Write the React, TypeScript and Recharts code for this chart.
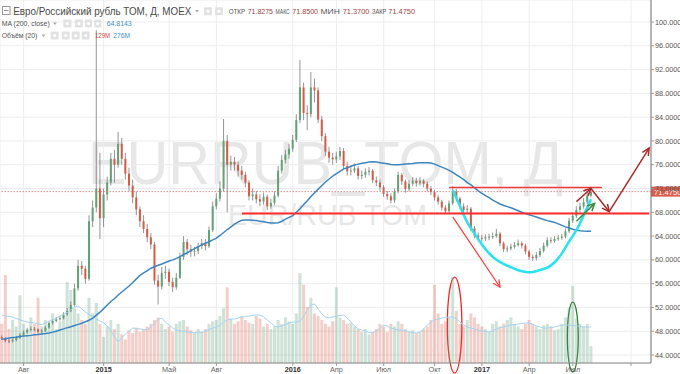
import React from 'react';
import { ComposedChart, Bar, Line, XAxis, YAxis, CartesianGrid, ReferenceLine, ReferenceArea } from 'recharts';

const FONT = "Arial, 'Liberation Sans', sans-serif";

// Weekly candles (EUR/RUB TOM), Jun 2014 .. Jul 2017
const opens = [
  47.0, 46.8, 46.4, 46.3, 46.5, 46.9, 47.4, 47.8, 48.2, 48.4,
  48.3, 47.9, 48.1, 48.6, 49.4, 49.7, 50.0, 50.2, 50.8, 51.4,
  52.4, 55.2, 59.0, 58.5, 56.8, 66.5, 68.8, 72.0, 67.0, 71.0,
  73.0, 77.0, 76.0, 79.5, 77.0, 74.5, 72.5, 70.5, 68.5, 66.5,
  65.2, 63.8, 62.6, 56.5, 55.5, 57.8, 58.0, 56.3, 55.4, 57.0,
  60.5, 63.0, 61.8, 61.4, 61.5, 62.3, 62.8, 62.3, 65.0, 69.0,
  70.3, 72.0, 80.0, 76.0, 76.5, 76.0, 75.0, 74.3, 73.0, 70.7,
  71.0, 70.2, 69.8, 70.6, 69.0, 69.6, 70.8, 75.0, 76.8, 77.7,
  78.7, 80.2, 83.5, 89.0, 84.7, 84.5, 89.0, 88.5, 83.6, 80.8,
  78.2, 77.2, 76.9, 77.4, 78.3, 75.8, 74.9, 75.0, 75.4, 74.1,
  74.3, 74.8, 75.0, 73.4, 73.0, 72.2, 71.1, 70.7, 70.0, 71.5,
  74.3, 73.2, 71.9, 72.8, 73.3, 72.9, 73.3, 72.8, 72.0, 71.4,
  70.5, 69.8, 68.8, 68.2, 69.5, 71.5, 70.3, 69.0, 68.4, 68.6,
  65.3, 64.1, 63.7, 63.6, 63.8, 63.9, 64.0, 64.4, 62.8, 61.8,
  61.9, 62.2, 62.5, 62.8, 62.4, 61.4, 60.5, 60.3, 60.8, 61.5,
  62.4, 63.3, 63.2, 63.5, 63.7, 63.9, 64.8, 66.6, 67.4, 68.4,
  69.0, 69.7, 70.8,
];
const highs = [
  47.3, 47.0, 46.7, 46.8, 47.2, 47.7, 48.1, 48.6, 48.8, 48.7,
  48.5, 48.4, 48.9, 49.7, 50.0, 50.4, 50.6, 51.2, 51.9, 53.0,
  56.0, 60.0, 59.8, 59.0, 67.5, 70.0, 98.6, 78.0, 72.0, 74.0,
  78.0, 78.5, 81.5, 80.5, 78.0, 75.5, 73.5, 71.5, 69.0, 67.5,
  66.0, 64.5, 63.0, 57.5, 58.8, 59.0, 58.5, 57.0, 57.8, 61.2,
  64.0, 63.5, 62.5, 62.2, 62.9, 63.5, 63.5, 65.6, 69.8, 71.2,
  73.2, 83.7, 81.0, 77.5, 77.3, 76.5, 75.8, 74.8, 73.4, 72.0,
  71.6, 71.0, 71.3, 71.0, 70.3, 71.5, 75.8, 77.6, 78.5, 79.5,
  81.0, 84.5, 93.6, 89.8, 86.0, 91.6, 90.5, 89.0, 84.2, 81.3,
  79.0, 78.0, 78.2, 79.0, 78.8, 76.5, 75.9, 76.2, 75.8, 75.0,
  75.4, 75.6, 75.3, 74.0, 73.5, 72.6, 71.6, 71.2, 72.0, 74.8,
  74.6, 73.5, 73.4, 73.9, 73.8, 73.9, 73.6, 73.2, 72.4, 71.8,
  70.9, 70.1, 69.2, 70.0, 72.4, 71.9, 70.6, 69.5, 69.2, 68.9,
  65.7, 64.6, 64.2, 64.3, 64.4, 64.6, 65.2, 64.7, 63.1, 62.4,
  62.7, 63.0, 63.4, 63.1, 62.7, 61.7, 60.9, 61.3, 62.0, 62.9,
  63.8, 63.8, 64.0, 64.2, 64.4, 65.3, 67.1, 68.0, 69.0, 69.6,
  70.4, 71.5, 72.3,
];
const lows = [
  46.5, 46.1, 46.0, 46.1, 46.3, 46.7, 47.2, 47.6, 48.0, 48.0,
  47.6, 47.7, 47.9, 48.4, 49.1, 49.5, 49.8, 50.0, 50.6, 51.2,
  52.1, 54.8, 57.5, 56.0, 56.5, 65.5, 68.0, 63.5, 65.5, 70.0,
  72.5, 73.0, 75.5, 76.0, 73.5, 71.5, 69.5, 67.5, 65.5, 64.5,
  63.0, 61.8, 55.8, 52.5, 55.0, 56.8, 55.6, 54.6, 55.0, 56.8,
  60.0, 60.8, 60.5, 60.6, 61.0, 61.8, 61.6, 62.0, 64.7, 68.5,
  69.8, 71.5, 68.0, 75.0, 75.0, 74.0, 73.5, 72.2, 70.0, 70.0,
  69.5, 69.0, 69.3, 68.4, 68.6, 69.2, 70.5, 74.5, 76.2, 77.0,
  78.2, 79.8, 83.0, 83.5, 81.8, 84.0, 86.5, 83.0, 80.0, 77.5,
  76.3, 76.0, 76.3, 76.8, 75.2, 74.2, 74.2, 74.6, 73.5, 73.6,
  73.8, 74.2, 72.9, 72.4, 71.6, 70.6, 70.1, 69.5, 69.6, 71.2,
  72.6, 71.3, 71.5, 72.4, 72.3, 72.5, 72.2, 71.5, 70.9, 70.0,
  69.3, 68.3, 67.8, 67.9, 69.2, 69.8, 68.5, 67.9, 67.9, 64.8,
  63.6, 63.2, 63.1, 63.2, 63.3, 63.5, 63.7, 62.3, 61.3, 61.3,
  61.6, 61.9, 62.2, 61.9, 60.9, 60.0, 59.8, 59.9, 60.5, 61.2,
  62.1, 62.8, 62.9, 63.2, 63.4, 63.6, 64.5, 66.2, 67.0, 68.0,
  68.6, 69.4, 70.5,
];
const closes = [
  46.8, 46.4, 46.3, 46.5, 46.9, 47.4, 47.8, 48.2, 48.4, 48.3,
  47.9, 48.1, 48.6, 49.4, 49.7, 50.0, 50.2, 50.8, 51.4, 52.4,
  55.2, 59.0, 58.5, 56.8, 66.5, 68.8, 72.0, 67.0, 71.0, 73.0,
  77.0, 76.0, 79.5, 77.0, 74.5, 72.5, 70.5, 68.5, 66.5, 65.2,
  63.8, 62.6, 56.5, 55.5, 57.8, 58.0, 56.3, 55.4, 57.0, 60.5,
  63.0, 61.8, 61.4, 61.5, 62.3, 62.8, 62.3, 65.0, 69.0, 70.3,
  72.0, 80.0, 76.0, 76.5, 76.0, 75.0, 74.3, 73.0, 70.7, 71.0,
  70.2, 69.8, 70.6, 69.0, 69.6, 70.8, 75.0, 76.8, 77.7, 78.7,
  80.2, 83.5, 89.0, 84.7, 84.5, 89.0, 88.5, 83.6, 80.8, 78.2,
  77.2, 76.9, 77.4, 78.3, 75.8, 74.9, 75.0, 75.4, 74.1, 74.3,
  74.8, 75.0, 73.4, 73.0, 72.2, 71.1, 70.7, 70.0, 71.5, 74.3,
  73.2, 71.9, 72.8, 73.3, 72.9, 73.3, 72.8, 72.0, 71.4, 70.5,
  69.8, 68.8, 68.2, 69.5, 71.5, 70.3, 69.0, 68.4, 68.6, 65.3,
  64.1, 63.7, 63.6, 63.8, 63.9, 64.0, 64.4, 62.8, 61.8, 61.9,
  62.2, 62.5, 62.8, 62.4, 61.4, 60.5, 60.3, 60.8, 61.5, 62.4,
  63.3, 63.2, 63.5, 63.7, 63.9, 64.8, 66.6, 67.4, 68.4, 69.0,
  69.7, 70.8, 71.475,
];
// Volume, millions
const volumes = [
  300, 675, 260, 330, 280, 520, 300, 260, 350, 300,
  500, 280, 330, 300, 380, 260, 320, 360, 620, 560,
  420, 380, 330, 300, 500, 380, 460, 300, 200, 280,
  330, 260, 300, 220, 180, 250, 230, 270, 240, 260,
  280, 300, 330, 350, 300, 260, 280, 240, 300, 320,
  330, 280, 250, 230, 260, 240, 260, 300, 320, 330,
  360, 420, 580, 340, 300, 320, 360, 330, 310, 300,
  360, 340, 280, 300, 260, 280, 330, 300, 350, 320,
  300, 380, 690, 600, 430, 500, 380, 360, 330, 300,
  280, 320, 580, 350, 330, 300, 310, 280, 260, 240,
  260, 220, 240, 260, 300, 280, 240, 300, 280, 320,
  300, 260, 240, 250, 230, 240, 260, 280, 330, 600,
  380, 300, 320, 350, 660, 400, 300, 280, 330, 380,
  350, 300, 280, 260, 240, 300, 320, 280, 300, 330,
  350, 300, 280, 260, 300, 330, 300, 280, 260, 290,
  300, 280, 250, 260, 300, 350, 420, 590, 340, 300,
  280, 300, 129,
];
const volumeMA = [
  368, 360, 357, 353, 341, 330, 322, 314, 311, 307,
  299, 295, 307, 322, 330, 345, 360, 376, 387, 407,
  430, 437, 414, 391, 372, 357, 337, 322, 307, 284,
  245, 199, 161, 192, 222, 245, 268, 265, 261, 257,
  253, 276, 307, 334, 345, 314, 291, 268, 253, 245,
  242, 238, 234, 234, 230, 234, 245, 257, 268, 276,
  291, 314, 330, 337, 337, 345, 353, 357, 360, 364,
  368, 368, 353, 330, 307, 284, 276, 284, 295, 307,
  314, 314, 322, 360, 407, 445, 453, 414, 376, 353,
  345, 353, 360, 364, 368, 345, 314, 284, 261, 253,
  245, 234, 230, 245, 268, 291, 284, 268, 261, 253,
  253, 245, 238, 234, 230, 238, 261, 291, 314, 330,
  337, 345, 349, 353, 353, 337, 314, 291, 276, 268,
  261, 253, 245, 242, 238, 245, 261, 272, 276, 284,
  291, 295, 299, 303, 307, 307, 299, 284, 276, 268,
  268, 272, 276, 284, 291, 291, 291, 288, 284, 280,
  276, 276, 276,
];
const ma200 = [
  46.65, 46.75, 46.85, 46.95, 47.0, 47.1, 47.2, 47.25, 47.3, 47.4,
  47.45, 47.55, 47.6, 47.7, 47.85, 48.0, 48.2, 48.4, 48.6, 48.75,
  48.95, 49.15, 49.35, 49.6, 49.85, 50.2, 50.7, 51.2, 51.8, 52.4,
  53.0, 53.5, 54.1, 54.6, 55.1, 55.6, 56.2, 56.8, 57.4, 57.8,
  58.2, 58.6, 58.85, 59.1, 59.3, 59.55, 59.8, 60.0, 60.25, 60.55,
  60.9, 61.2, 61.55, 61.9, 62.2, 62.55, 62.8, 63.05, 63.35, 63.65,
  64.1, 64.6, 65.1, 65.55, 66.0, 66.4, 66.65, 66.7, 66.7, 66.65,
  66.6, 66.5, 66.4, 66.3, 66.2, 66.2, 66.25, 66.5, 66.85, 67.15,
  67.45, 68.0, 68.6, 69.3, 69.95, 70.65, 71.3, 71.9, 72.5, 73.1,
  73.6, 74.1, 74.5, 74.9, 75.3, 75.5, 75.75, 75.95, 76.1, 76.25,
  76.35, 76.45, 76.5, 76.45, 76.35, 76.25, 76.15, 76.05, 76.0, 76.0,
  76.05, 76.1, 76.15, 76.2, 76.3, 76.35, 76.35, 76.35, 76.3, 76.1,
  75.85, 75.6, 75.35, 75.05, 74.7, 74.3, 73.9, 73.5, 73.0, 72.6,
  72.1, 71.6, 71.2, 70.8, 70.45, 70.05, 69.7, 69.4, 69.15, 68.95,
  68.75, 68.5, 68.25, 68.0, 67.8, 67.6, 67.4, 67.2, 67.0, 66.8,
  66.6, 66.45, 66.3, 66.05, 65.8, 65.55, 65.35, 65.15, 65.0, 64.9,
  64.85, 64.82, 64.81,
];

const TOTAL_SLOTS = 179; // weekly slots incl. empty space on the right
const priceTicks = [44, 48, 52, 56, 60, 64, 68, 72, 76, 80, 84, 88, 92, 96, 100];
const monthTickSlots = [6, 28, 46, 59, 80, 92, 105, 119, 132, 145, 157, 173];
const monthTickLabels = ['Авг', '2015', 'Май', 'Авг', '2016', 'Апр', 'Июл', 'Окт', '2017', 'Апр', 'Июл', ''];

// Drawn annotations (slot, price)
const cupSlots = [124, 126, 128, 130, 132, 134, 136, 138, 140, 142, 144, 146, 148, 150, 152, 154, 156, 158, 160, 162];
const cupValues = [71.7, 69.0, 66.3, 64.4, 62.6, 61.1, 60.0, 59.3, 58.75, 58.25, 57.95, 57.95, 58.3, 58.7, 59.6, 61.1, 63.1, 65.0, 67.5, 70.2];
const levelLines = [
  { from: 66, to: 178, price: 67.8, color: '#ff2a2a', w: 2.2 },
  { from: 123, to: 165, price: 72.15, color: '#f03a3a', w: 1.5 },
];
const arrows = [
  { x1: 124, y1: 67.2, x2: 137, y2: 55.4, color: '#ff3b3b', w: 1.2 },
  { x1: 158, y1: 66.5, x2: 163, y2: 69.5, color: '#3d8a3d', w: 1.5 },
  { x1: 158, y1: 69.8, x2: 162, y2: 72.0, color: '#a82c2c', w: 1.5 },
  { x1: 162, y1: 72.0, x2: 167, y2: 68.1, color: '#a82c2c', w: 1.5 },
  { x1: 167, y1: 68.1, x2: 178, y2: 78.8, color: '#a82c2c', w: 1.5 },
];
const volumeCircles = [
  { x1: 123, x2: 126, y1: 40.97, y2: 57.1, color: '#ff2020' },
  { x1: 156, x2: 158, y1: 41.14, y2: 52.9, color: '#2e7d32' },
];
const lastPrice = 71.475;

const rows = Array.from({ length: TOTAL_SLOTS }, (_, i) => {
  const has = i < closes.length;
  const ci = cupSlots.indexOf(i);
  return {
    i,
    o: has ? opens[i] : null,
    h: has ? highs[i] : null,
    l: has ? lows[i] : null,
    c: has ? closes[i] : null,
    range: has ? [lows[i], highs[i]] : null,
    vol: has ? volumes[i] : null,
    vma: has ? volumeMA[i] : null,
    ma: has ? ma200[i] : null,
    cup: ci >= 0 ? cupValues[ci] : null,
  };
});

const Candle = (props: any) => {
  const { x, y, width, height, payload } = props;
  if (!payload || payload.o == null) return null;
  const { o, h, l, c } = payload;
  const top = Math.min(y, y + height);
  const hh = Math.abs(height);
  const ppu = hh / (h - l || 1);
  const yOf = (v: number) => top + (h - v) * ppu;
  const cx = x + width / 2;
  const up = c >= o;
  const bt = yOf(Math.max(o, c));
  const bb = yOf(Math.min(o, c));
  const bw = 2.0;
  return (
    <g>
      <line x1={cx} x2={cx} y1={top} y2={top + hh} stroke="#7a7a7a" strokeWidth={0.8} />
      <rect x={cx - bw / 2} y={bt} width={bw} height={Math.max(0.9, bb - bt)} fill={up ? '#62a277' : '#d65a45'} />
    </g>
  );
};

const VolBar = (props: any) => {
  const { x, y, width, height, payload } = props;
  if (!payload || payload.vol == null) return null;
  const up = payload.c >= payload.o;
  return <rect x={x} y={y} width={width} height={height} fill={up ? 'rgba(107,165,131,0.32)' : 'rgba(215,84,66,0.28)'} />;
};

const XTick = (p: any) => {
  const k = monthTickSlots.indexOf(p.payload.value);
  const label = k >= 0 ? monthTickLabels[k] : '';
  const year = /^\d{4}$/.test(label);
  return (
    <text x={p.x} y={p.y + 6} textAnchor="middle" fontFamily={FONT} fontSize={7.3} fontWeight={year ? 700 : 400} fill={year ? '#333' : '#666'}>
      {label}
    </text>
  );
};

const makeArrow = (color: string, w: number) => (p: any) => {
  const { x1, y1, x2, y2 } = p;
  const ang = Math.atan2(y2 - y1, x2 - x1);
  const L = 8;
  const a = 0.45;
  const hx1 = x2 - L * Math.cos(ang - a);
  const hy1 = y2 - L * Math.sin(ang - a);
  const hx2 = x2 - L * Math.cos(ang + a);
  const hy2 = y2 - L * Math.sin(ang + a);
  return (
    <g>
      <line x1={x1} y1={y1} x2={x2} y2={y2} stroke={color} strokeWidth={w} />
      <polyline points={`${hx1},${hy1} ${x2},${y2} ${hx2},${hy2}`} fill="none" stroke={color} strokeWidth={w} />
    </g>
  );
};

const makeEllipse = (color: string) => (p: any) => (
  <ellipse cx={p.x + p.width / 2} cy={p.y + p.height / 2} rx={Math.abs(p.width) / 2} ry={Math.abs(p.height) / 2} fill="none" stroke={color} strokeWidth={1.3} />
);

const PriceTag = (p: any) => {
  const vb = p.viewBox || {};
  const x = (vb.x || 0) + (vb.width || 0);
  const y = vb.y || 0;
  return (
    <g>
      <rect x={x} y={y - 5} width={29} height={10} fill="#dc5a4a" />
      <text x={x + 3} y={y + 3} fill="#fff" fontSize={7.6} fontFamily={FONT}>{lastPrice.toFixed(4)}</text>
    </g>
  );
};

const Icon = ({ x, y, w = 8, h = 8 }: any) => (
  <g>
    <rect x={x} y={y} width={w} height={h} rx={1} fill="#e2e2e2" />
    <circle cx={x + w / 2} cy={y + h / 2} r={1.6} fill="#fff" />
  </g>
);

const Header = () => (
  <svg width={680} height={45} style={{ position: 'absolute', left: 0, top: 0 }} fontFamily={FONT}>
    <rect x={2.5} y={6.5} width={7.5} height={8} fill="none" stroke="#999" />
    <line x1={4} x2={8.5} y1={10.5} y2={10.5} stroke="#999" />
    <text x={13.3} y={15} fontSize={10.6} fill="#4a4a4a" textLength={178} lengthAdjust="spacingAndGlyphs">Евро/Российский рубль ТОМ, Д, MOEX</text>
    <polygon points="195,10 199,10 197,12.5" fill="#aaa" />
    <Icon x={204} y={7.3} />
    <Icon x={215} y={7.3} />
    <text x={228.7} y={13.5} fontSize={7.2} fill="#555" textLength={16.5} lengthAdjust="spacingAndGlyphs">ОТКР</text>
    <text x={247.7} y={13.5} fontSize={7.2} fill="#a0413d" textLength={25.3} lengthAdjust="spacingAndGlyphs">71.8275</text>
    <text x={275.5} y={13.5} fontSize={7.2} fill="#555" textLength={14.3} lengthAdjust="spacingAndGlyphs">МАКС</text>
    <text x={292.3} y={13.5} fontSize={7.2} fill="#a0413d" textLength={25.8} lengthAdjust="spacingAndGlyphs">71.8500</text>
    <text x={320.5} y={13.5} fontSize={7.2} fill="#555" textLength={19.3} lengthAdjust="spacingAndGlyphs">МИН</text>
    <text x={342.7} y={13.5} fontSize={7.2} fill="#a0413d" textLength={26.8} lengthAdjust="spacingAndGlyphs">71.3700</text>
    <text x={371.9} y={13.5} fontSize={7.2} fill="#555" textLength={14.6} lengthAdjust="spacingAndGlyphs">ЗАКР</text>
    <text x={388.3} y={13.5} fontSize={7.2} fill="#a0413d" textLength={26.7} lengthAdjust="spacingAndGlyphs">71.4750</text>

    <text x={1.7} y={26.3} fontSize={8} fill="#555" textLength={48} lengthAdjust="spacingAndGlyphs">MA (200, close)</text>
    <polygon points="53,22.5 57,22.5 55,25" fill="#aaa" />
    <Icon x={63.3} y={19.5} />
    <Icon x={75} y={19.5} />
    <Icon x={85} y={19.5} w={7} />
    <Icon x={94.3} y={19.5} w={7} />
    <text x={106.7} y={26.3} fontSize={8} fill="#3d8fd1" textLength={25} lengthAdjust="spacingAndGlyphs">64.8143</text>

    <text x={1.7} y={38.2} fontSize={8} fill="#555" textLength={35.6} lengthAdjust="spacingAndGlyphs">Объём (20)</text>
    <polygon points="41.5,34.5 45.5,34.5 43.5,37" fill="#aaa" />
    <Icon x={50.7} y={31.5} />
    <Icon x={61.7} y={31.5} />
    <Icon x={71.7} y={31.5} />
    <Icon x={81.7} y={31.5} />
    <text x={95} y={38.2} fontSize={8} fill="#d0473e" textLength={15} lengthAdjust="spacingAndGlyphs">129M</text>
    <text x={113.3} y={38.2} fontSize={8} fill="#3d8fd1" textLength={16.7} lengthAdjust="spacingAndGlyphs">276M</text>
  </svg>
);

const Watermark = () => (
  <svg width={680} height={374} style={{ position: 'absolute', left: 0, top: 0 }} fontFamily={FONT}>
    <text x={88} y={184} fontSize={61} fill="#e7e7e7" textLength={475} lengthAdjust="spacingAndGlyphs">EURRUB_TOM, Д</text>
    <text x={228} y={225} fontSize={30} fill="#e7e7e7" textLength={199} lengthAdjust="spacingAndGlyphs">EUR/RUB TOM</text>
  </svg>
);

export default function App() {
  return (
    <div style={{ position: 'absolute', left: 0, top: 0, width: 680, height: 374, background: '#fff', overflow: 'hidden' }}>
      <Watermark />
      <div style={{ position: 'absolute', left: 0, top: 0 }}>
        <ComposedChart width={680} height={374} data={rows} margin={{ top: 0, right: 0, bottom: 0, left: 0 }} barCategoryGap="6%" barGap={0}>
          <CartesianGrid xAxisId="p" yAxisId="p" stroke="#ededed" />
          <XAxis
            xAxisId="p"
            dataKey="i"
            ticks={monthTickSlots}
            interval={0}
            height={11}
            tickSize={3}
            tickMargin={0}
            tickLine={{ stroke: '#999' }}
            axisLine={{ stroke: '#888' }}
            tick={<XTick />}
          />
          <XAxis xAxisId="v" dataKey="i" hide />
          <YAxis
            yAxisId="p"
            orientation="right"
            width={29}
            domain={[42.655, 103.7]}
            allowDataOverflow
            ticks={priceTicks}
            tickFormatter={(v: number) => v.toFixed(4)}
            tickSize={3}
            tickMargin={1}
            tickLine={{ stroke: '#999' }}
            axisLine={{ stroke: '#777' }}
            tick={{ fontSize: 7.3, fill: '#555', fontFamily: FONT }}
          />
          <YAxis yAxisId="v" hide domain={[0, 2784]} allowDataOverflow />
          <ReferenceLine xAxisId="p" yAxisId="p" y={lastPrice} stroke="#e07070" strokeDasharray="1.5 1.5" strokeWidth={0.8} />
          <Bar xAxisId="v" yAxisId="v" dataKey="vol" shape={VolBar} isAnimationActive={false} />
          <Line xAxisId="v" yAxisId="v" dataKey="vma" stroke="#a6d4f2" strokeWidth={1} dot={false} isAnimationActive={false} />
          <Bar xAxisId="p" yAxisId="p" dataKey="range" shape={Candle} isAnimationActive={false} />
          <Line xAxisId="p" yAxisId="p" dataKey="ma" stroke="#3d85c0" strokeWidth={1.5} dot={false} isAnimationActive={false} />
          <Line xAxisId="p" yAxisId="p" dataKey="cup" type="natural" connectNulls stroke="#25e4f0" strokeWidth={2.5} dot={false} isAnimationActive={false} />
          {levelLines.map((s, k) => (
            <ReferenceLine
              key={'lv' + k}
              xAxisId="p"
              yAxisId="p"
              segment={[{ x: s.from, y: s.price }, { x: s.to, y: s.price }]}
              stroke={s.color}
              strokeWidth={s.w}
            />
          ))}
          {arrows.map((a, k) => (
            <ReferenceLine
              key={'ar' + k}
              xAxisId="p"
              yAxisId="p"
              segment={[{ x: a.x1, y: a.y1 }, { x: a.x2, y: a.y2 }]}
              stroke={a.color}
              shape={makeArrow(a.color, a.w)}
            />
          ))}
          {volumeCircles.map((e, k) => (
            <ReferenceArea
              key={'el' + k}
              xAxisId="p"
              yAxisId="p"
              x1={e.x1}
              x2={e.x2}
              y1={e.y1}
              y2={e.y2}
              ifOverflow="visible"
              shape={makeEllipse(e.color)}
            />
          ))}
          <ReferenceLine xAxisId="p" yAxisId="p" y={lastPrice} stroke="none" label={PriceTag} />
        </ComposedChart>
      </div>
      <Header />
    </div>
  );
}
